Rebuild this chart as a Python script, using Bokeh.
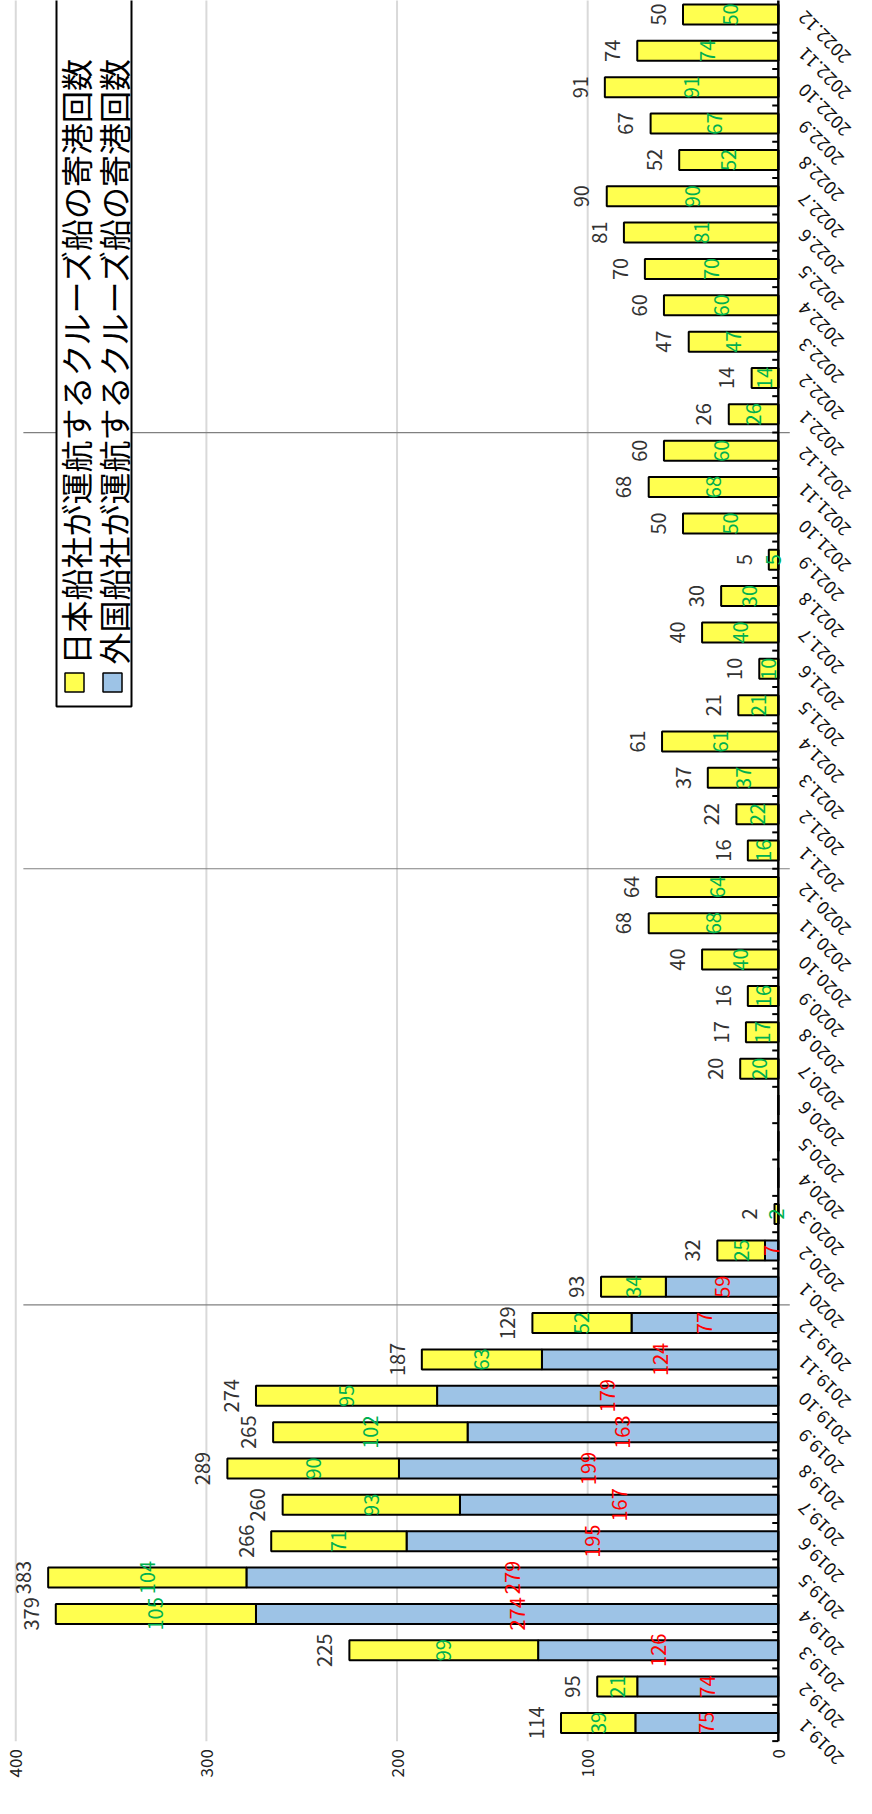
import math
from bokeh.plotting import figure
from bokeh.models import Range1d, ColumnDataSource
from bokeh.core.properties import value
from bokeh.embed import file_html
from bokeh.resources import INLINE

months = [f"{y}.{m}" for y in (2019, 2020, 2021, 2022) for m in range(1, 13)]
foreign = [75, 74, 126, 274, 279, 195, 167, 199, 163, 179, 124, 77,
           59, 7, 0, 0, 0, 0, 0, 0, 0, 0, 0, 0,
           0, 0, 0, 0, 0, 0, 0, 0, 0, 0, 0, 0,
           0, 0, 0, 0, 0, 0, 0, 0, 0, 0, 0, 0]
japanese = [39, 21, 99, 105, 104, 71, 93, 90, 102, 95, 63, 52,
            34, 25, 2, 0, 0, 0, 20, 17, 16, 40, 68, 64,
            16, 22, 37, 61, 21, 10, 40, 30, 5, 50, 68, 60,
            26, 14, 47, 60, 70, 81, 90, 52, 67, 91, 74, 50]
value_ticks = [0, 100, 200, 300, 400]
legend_labels = ["日本船社が運航するクルーズ船の寄港回数", "外国船社が運航するクルーズ船の寄港回数"]

BLUE = "#9dc3e6"
YELLOW = "#ffff4f"
GREEN = "#00b050"
RED = "#ff0000"
FONT = "Noto Sans CJK JP"

N = len(months)
totals = [f + j for f, j in zip(foreign, japanese)]
pos = [i + 0.5 for i in range(N)]          # slot centre of each month

# frame geometry
FW, FH = 856, 1798
X0, X1 = 408, -41
P = 36.35                                  # px per month slot
YT = 47.5 + 14 / P
YB = YT - FH / P

p = figure(frame_width=FW, frame_height=FH, x_range=Range1d(X0, X1), y_range=Range1d(YB, YT),
           x_axis_location=None, y_axis_location=None, output_backend="svg", toolbar_location=None,
           min_border_left=0, min_border_right=0, min_border_top=0, min_border_bottom=0)
p.outline_line_color = None
p.background_fill_color = "white"
p.grid.visible = False

# value gridlines (stop at the plot-area bottom)
grid_src = ColumnDataSource(dict(x=value_ticks[1:]))
p.segment(x0="x", x1="x", y0=0, y1=YT + 1, source=grid_src, line_color="#d9d9d9", line_width=2)

# year separators
sep_src = ColumnDataSource(dict(y=[12, 24, 36]))
p.segment(x0=396, x1=-6, y0="y", y1="y", source=sep_src, line_color="#808080", line_width=1.2)

# bars
src = ColumnDataSource(dict(pos=pos, month=months, foreign=foreign, japanese=japanese))
p.hbar_stack(["foreign", "japanese"], y="pos", height=0.55, color=[BLUE, YELLOW],
             line_color="black", line_width=2, source=src)

# category axis line + inward ticks at slot boundaries
p.segment(x0=[0], x1=[0], y0=[0], y1=[YT + 1], line_color="black", line_width=2.5)
tick_src = ColumnDataSource(dict(y=list(range(N + 1))))
p.segment(x0=0, x1=3.2, y0="y", y1="y", source=tick_src, line_color="black", line_width=2)

# month labels (slanted)
cat_src = ColumnDataSource(dict(pos=pos, month=months, x=[-12] * N))
p.text(x="x", y="pos", text="month", source=cat_src, angle=3 * math.pi / 4,
       text_align="right", text_baseline="middle", text_font=value(FONT),
       text_font_size="18px", text_color="#111111")

# value tick labels
vt_src = ColumnDataSource(dict(x=value_ticks, t=[str(v) for v in value_ticks], y=[-8 / P] * len(value_ticks)))
p.text(x="x", y="y", text="t", source=vt_src, angle=math.pi / 2, text_align="right",
       text_baseline="middle", text_font=value(FONT), text_font_size="17px", text_color="#222222")

# total labels
ti = [i for i in range(N) if totals[i] > 0]
tot_src = ColumnDataSource(dict(y=[pos[i] for i in ti], x=[totals[i] + 13 for i in ti],
                                t=[str(totals[i]) for i in ti]))
p.text(x="x", y="y", text="t", source=tot_src, angle=math.pi / 2, text_align="center",
       text_baseline="middle", text_font=value(FONT), text_font_size="20px", text_color="#333333")

# segment labels
ji = [i for i in range(N) if japanese[i] > 0]
j_src = ColumnDataSource(dict(y=[pos[i] for i in ji], x=[foreign[i] + japanese[i] / 2 for i in ji],
                              t=[str(japanese[i]) for i in ji]))
p.text(x="x", y="y", text="t", source=j_src, angle=math.pi / 2, text_align="center",
       text_baseline="middle", text_font=value(FONT), text_font_size="20px", text_color=GREEN)
fi = [i for i in range(N) if foreign[i] > 0]
f_src = ColumnDataSource(dict(y=[pos[i] for i in fi], x=[foreign[i] / 2 for i in fi],
                              t=[str(foreign[i]) for i in fi]))
p.text(x="x", y="y", text="t", source=f_src, angle=math.pi / 2, text_align="center",
       text_baseline="middle", text_font=value(FONT), text_font_size="20px", text_color=RED)

# legend (drawn manually, rotated)
def sy(page_y):
    return YT - (page_y - 8) / P
def sx(page_x):
    return X0 - (page_x - 8) * (X0 - X1) / FW

p.quad(left=sx(64), right=sx(139), top=sy(2), bottom=sy(714), fill_color="white",
       line_color="black", line_width=2)
leg_x = [sx(82), sx(120)]
p.scatter(x=leg_x, y=[sy(690)] * 2, marker="square", size=19, fill_color=[YELLOW, BLUE],
          line_color="black", line_width=1.5)
p.text(x=leg_x, y=[sy(672)] * 2, text=legend_labels, angle=math.pi / 2, text_align="left",
       text_baseline="middle", text_font=value(FONT), text_font_size="32px", text_color="black")

open("out.html", "w").write(file_html(p, INLINE))
